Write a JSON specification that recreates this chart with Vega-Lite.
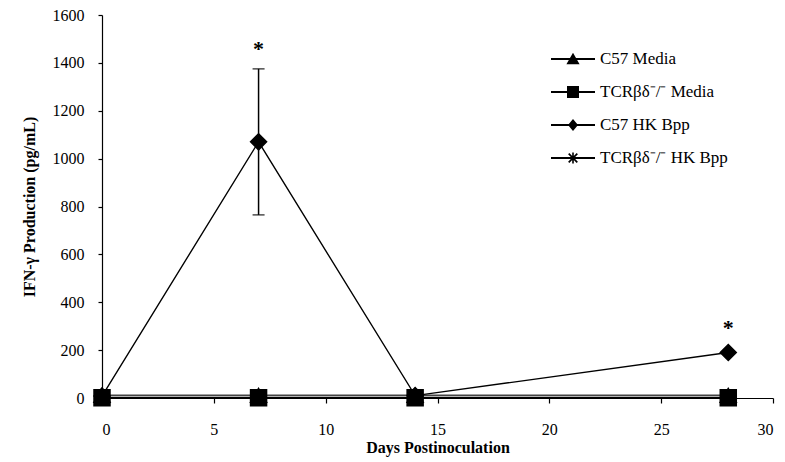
{
  "$schema": "https://vega.github.io/schema/vega-lite/v6.json",
  "width": 671,
  "height": 383,
  "autosize": "none",
  "padding": {"left": 102, "top": 15, "right": 12, "bottom": 64},
  "background": "white",
  "config": {
    "view": {"stroke": null},
    "font": "Liberation Serif",
    "axis": {
      "grid": false,
      "domainColor": "black",
      "domainWidth": 1.2,
      "tickColor": "black",
      "tickWidth": 1.2,
      "labelFont": "Liberation Serif",
      "labelFontSize": 16,
      "labelColor": "black",
      "titleFont": "Liberation Serif",
      "titleFontSize": 16,
      "titleFontWeight": "bold",
      "titleColor": "black"
    }
  },
  "datasets": {
    "series": [
      {"day": 0, "value": 4, "series": "TCRβδ⁻/⁻ HK Bpp"},
      {"day": 7, "value": 4, "series": "TCRβδ⁻/⁻ HK Bpp"},
      {"day": 14, "value": 4, "series": "TCRβδ⁻/⁻ HK Bpp"},
      {"day": 28, "value": 4, "series": "TCRβδ⁻/⁻ HK Bpp"},
      {"day": 0, "value": 11, "series": "C57 Media"},
      {"day": 7, "value": 11, "series": "C57 Media"},
      {"day": 14, "value": 11, "series": "C57 Media"},
      {"day": 28, "value": 11, "series": "C57 Media"},
      {"day": 0, "value": 8, "series": "C57 HK Bpp"},
      {"day": 7, "value": 1070, "series": "C57 HK Bpp"},
      {"day": 14, "value": 10, "series": "C57 HK Bpp"},
      {"day": 28, "value": 190, "series": "C57 HK Bpp"},
      {"day": 0, "value": 1, "series": "TCRβδ⁻/⁻ Media"},
      {"day": 7, "value": 1, "series": "TCRβδ⁻/⁻ Media"},
      {"day": 14, "value": 1, "series": "TCRβδ⁻/⁻ Media"},
      {"day": 28, "value": 1, "series": "TCRβδ⁻/⁻ Media"}
    ],
    "errbar": [{"day": 7, "lo": 765, "hi": 1375}],
    "caps": [{"day": 7, "v": 765}, {"day": 7, "v": 1375}],
    "stars": [{"day": 7, "v": 1460}, {"day": 28, "v": 292}]
  },
  "layer": [
    {
      "data": {"name": "series"},
      "mark": {"type": "line"},
      "encoding": {
        "x": {"field": "day", "type": "quantitative", "scale": {"domain": [0, 30], "nice": false},
              "axis": {"values": [0, 5, 10, 15, 20, 25, 30], "format": "d", "tickSize": 5, "labelPadding": 18, "title": "Days Postinoculation", "titlePadding": 2}},
        "y": {"field": "value", "type": "quantitative", "scale": {"domain": [0, 1600], "nice": false},
              "axis": {"values": [0, 200, 400, 600, 800, 1000, 1200, 1400, 1600], "format": "d", "tickSize": 4, "labelPadding": 14, "title": "IFN-γ Production (pg/mL)", "titlePadding": 15}},
        "detail": {"field": "series"},
        "color": {"field": "series", "type": "nominal", "legend": null,
                  "scale": {"domain": ["C57 Media", "TCRβδ⁻/⁻ Media", "C57 HK Bpp", "TCRβδ⁻/⁻ HK Bpp"], "range": ["#444444", "black", "black", "#6e6e6e"]}},
        "strokeWidth": {"field": "series", "type": "nominal", "legend": null,
                  "scale": {"domain": ["C57 Media", "TCRβδ⁻/⁻ Media", "C57 HK Bpp", "TCRβδ⁻/⁻ HK Bpp"], "range": [1.5, 1.3, 2, 5]}}
      }
    },
    {
      "data": {"name": "errbar"},
      "mark": {"type": "rule", "color": "black", "strokeWidth": 1.5},
      "encoding": {
        "x": {"field": "day", "type": "quantitative"},
        "y": {"field": "lo", "type": "quantitative"},
        "y2": {"field": "hi"}
      }
    },
    {
      "data": {"name": "caps"},
      "mark": {"type": "tick", "orient": "horizontal", "color": "black", "size": 12, "thickness": 1.5},
      "encoding": {
        "x": {"field": "day", "type": "quantitative"},
        "y": {"field": "v", "type": "quantitative"}
      }
    },
    {
      "data": {"name": "series"},
      "mark": {"type": "point", "filled": true, "fill": "black", "stroke": "black", "strokeWidth": 1.5, "opacity": 1, "size": 256},
      "encoding": {
        "x": {"field": "day", "type": "quantitative"},
        "y": {"field": "value", "type": "quantitative"},
        "shape": {"field": "series", "type": "nominal", "legend": null,
                  "scale": {"domain": ["C57 Media", "TCRβδ⁻/⁻ Media", "C57 HK Bpp", "TCRβδ⁻/⁻ HK Bpp"],
                            "range": ["triangle-up", "square", "diamond", "M-1,0H1M0,-1V1M-0.7,-0.7L0.7,0.7M-0.7,0.7L0.7,-0.7"]}}
      }
    },
    {
      "data": {"name": "series"},
      "transform": [{"filter": "datum.day < 0"}],
      "mark": {"type": "point", "filled": true, "color": "black", "size": 400, "opacity": 1},
      "encoding": {
        "x": {"field": "day", "type": "quantitative"},
        "y": {"field": "value", "type": "quantitative"},
        "shape": {"field": "series", "type": "nominal",
                  "scale": {"domain": ["C57 Media", "TCRβδ⁻/⁻ Media", "C57 HK Bpp", "TCRβδ⁻/⁻ HK Bpp"],
                            "range": [
                              "M-2.2,-0.09H2.2V0.09H-2.2ZM0,-0.62L0.66,0.52L-0.66,0.52Z",
                              "M-2.2,-0.09H2.2V0.09H-2.2ZM-0.6,-0.6H0.6V0.6H-0.6Z",
                              "M-2.2,-0.09H2.2V0.09H-2.2ZM0,-0.6L0.5,0L0,0.6L-0.5,0Z",
                              "M-2.2,-0.09H2.2V0.09H-2.2ZM-0.08,-0.55H0.08V0.55H-0.08ZM-0.37,-0.49L0.49,0.37L0.37,0.49L-0.49,-0.37ZM0.37,-0.49L0.49,-0.37L-0.37,0.49L-0.49,0.37Z"
                            ]},
                  "legend": {"orient": "none", "legendX": 460, "legendY": 33, "title": null,
                             "labelFont": "Liberation Serif", "labelFontSize": 17, "labelColor": "black",
                             "symbolSize": 400, "symbolFillColor": "black", "symbolOpacity": 1,
                             "rowPadding": 13, "labelOffset": 16, "padding": 0}}
      }
    },
    {
      "data": {"name": "stars"},
      "mark": {"type": "text", "text": "*", "fontSize": 22, "fontWeight": "bold", "font": "Liberation Serif", "color": "black", "baseline": "middle", "align": "center"},
      "encoding": {
        "x": {"field": "day", "type": "quantitative"},
        "y": {"field": "v", "type": "quantitative"}
      }
    }
  ],
  "resolve": {"scale": {"shape": "independent", "color": "independent", "strokeWidth": "independent"}}
}
